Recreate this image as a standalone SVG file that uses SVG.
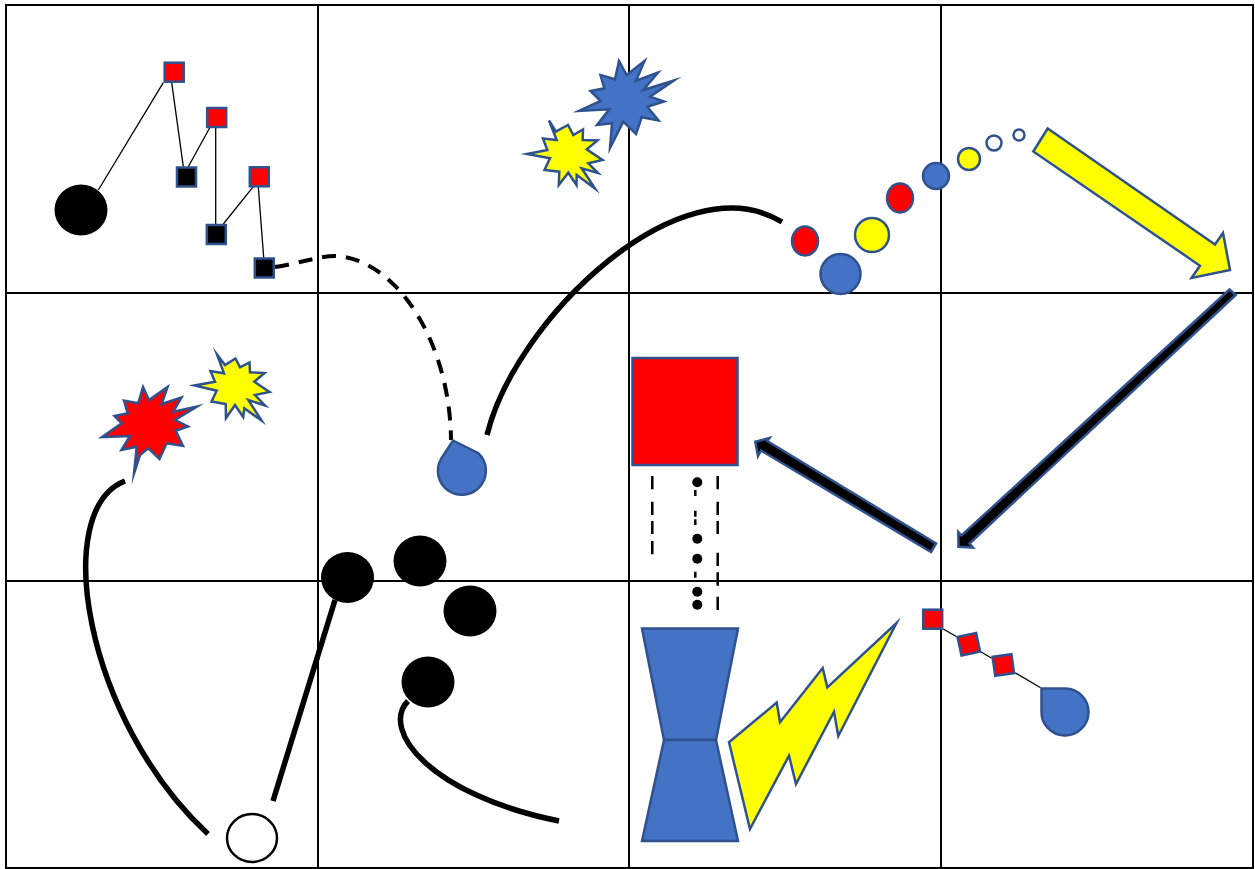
<svg xmlns="http://www.w3.org/2000/svg" width="1255" height="869" viewBox="0 0 1255 869">
<style>
.s{stroke:#2F528F;stroke-width:2.500;stroke-miterlimit:10}
.r{fill:#FF0000}.b{fill:#4472C4}.y{fill:#FFFF00}.k{fill:#000}.w{fill:#fff}
.thin{fill:none;stroke:#000;stroke-width:1.300}
.fat{fill:none;stroke:#000;stroke-width:5.500}
.grid{fill:none;stroke:#000;stroke-width:2}
.dash{fill:none;stroke:#000;stroke-width:2.500}
</style>
<rect width="1255" height="869" fill="#fff"/>
<g id="grid">
<path class="grid" d="M6 5H1253V868H6ZM318 5V868M629 5V868M941 5V868M6 293H1253M6 581H1253"/>
</g>
<g id="connectors">
<path class="thin" d="M98.300 190L163.300 82.700M171.700 82.700L183.300 166.700M188.300 166.700L210 127.300M215.700 127.300V224M223.300 224L253.300 186.700M258.300 186.700L263.700 257.700"/>
<path class="thin" d="M943.300 629L956.700 636.700M980.700 651.700L991.700 658.300M1015 672.700L1040.700 687.700"/>
<path fill="none" stroke="#000" stroke-width="4" stroke-dasharray="14 10" d="M275 267C300 263 320 256 335 256C395 258 450 340 451 440"/>
<path class="fat" d="M487 435C515 320 680 160 782 222"/>
<path class="fat" d="M125 481C50 510 85 720 208 834"/>
<path class="fat" d="M335 600L273 801"/>
<path class="fat" d="M408 701C380 730 430 795 559 821"/>
<path class="dash" d="M652.300 476V489.300M652.300 501.700V515M652.300 521V534M652.300 541V554.300"/>
<path class="dash" d="M717.700 476V489.300M717.700 501.700V515M717.700 521V534M717.700 552.700V566M717.700 572.300V585.700M717.700 596.700V610"/>
<path class="dash" d="M695.300 490V496M695.300 510.700V516.700M695.300 519.300V525M695.300 571.700V577.700"/>
<circle class="k" cx="697.300" cy="482.300" r="5"/>
<circle class="k" cx="697.300" cy="538.700" r="5"/>
<circle class="k" cx="697.300" cy="558.700" r="5"/>
<circle class="k" cx="697.300" cy="591.700" r="5"/>
<circle class="k" cx="697.300" cy="604.700" r="5"/>
</g>
<g id="n-black-oval-1"><ellipse class="k" cx="81" cy="210" rx="26.500" ry="25.500"/></g>
<g id="n-sq-1"><rect class="r s" x="164.700" y="62.700" width="19" height="19"/></g>
<g id="n-sq-2"><rect class="r s" x="207.200" y="108" width="19" height="19"/></g>
<g id="n-sq-3"><rect class="k s" x="177" y="167.500" width="19" height="19"/></g>
<g id="n-sq-4"><rect class="r s" x="249.800" y="167.300" width="19" height="19"/></g>
<g id="n-sq-5"><rect class="k s" x="206.800" y="225" width="19" height="19"/></g>
<g id="n-sq-6"><rect class="k s" x="254.800" y="258.500" width="19" height="19"/></g>
<g id="n-burst-blue"><polygon class="b s" points="619,61 626.700,75 644.500,61 636,80.700 658,72.500 643.300,90 674,80.500 650,96.700 664,101.500 647.300,106.700 658.500,120.500 641.700,117.300 636,134 623.300,121.700 610,148 612,123.300 597,125 609.300,109.300 579,111 600.700,101 590.500,91 604.300,88.300 600.500,75 615,79.300"/></g>
<g id="n-burst-yellow-1"><polygon class="y s" points="549,120.500 556,131.700 568,125 573.300,135 583,129.500 582.700,140 597.500,140.500 586.700,149.300 602.500,160 588.300,163.300 598,173 581.700,168.300 595,188.500 576.700,175 576.500,185 568.300,172.700 558.800,185 559.300,171.700 544.500,170 550,158.300 527,154 547.300,150 543,138.500 556.700,140"/></g>
<g id="n-burst-red"><polygon class="r s" points="143,387 149,400 167.500,387 161.700,404 181.500,397.500 173.300,411.700 197,406.500 175,420 188,426.500 175.700,430.700 183,446 166.700,443.300 159.500,459 148.300,448.300 140,455 134,473.500 136.700,446.700 121.500,450 130,436 102,437 121.700,423.300 114.500,416 127.700,413.300 124,400.500 138.300,403.300"/></g>
<g id="n-burst-yellow-2"><polygon class="y s" points="217,354.500 225,365 235.500,358.500 240,367.300 249.500,362.500 250,372.300 264.500,373 254.300,381.700 269.500,392 255,395 265,405.500 248.300,400 261.500,420.500 244.300,408.300 243.200,417 235,405 226,418 225.700,404 211.500,401.500 216.700,390.700 194.500,385.500 215,381.700 210.500,371 224,373.300"/></g>
<g id="n-oval-red-1"><ellipse class="r s" cx="805" cy="241" rx="13" ry="14.500"/></g>
<g id="n-oval-blue-1"><circle class="b s" cx="840.500" cy="274" r="20"/></g>
<g id="n-oval-yellow-1"><circle class="y s" cx="872" cy="235" r="17"/></g>
<g id="n-oval-red-2"><ellipse class="r s" cx="900" cy="198" rx="13" ry="14.500"/></g>
<g id="n-oval-blue-2"><circle class="b s" cx="936" cy="176" r="13"/></g>
<g id="n-oval-yellow-2"><circle class="y s" cx="969" cy="159" r="11"/></g>
<g id="n-oval-white-1"><circle class="w s" cx="994" cy="143" r="7.500"/></g>
<g id="n-oval-white-2"><circle class="w s" cx="1019" cy="135" r="5.500"/></g>
<g id="n-arrow-yellow"><polygon class="y s" points="1047.700,128.500 1033.300,151.500 1200,265.700 1191.500,278 1230,270 1223,233 1215,244.500"/></g>
<g id="n-arrow-black-1"><polygon class="k s" points="1229.500,289.500 1235.700,295 969.500,543.500 973,547.500 958.500,546.800 958.300,532 961.500,535.500"/></g>
<g id="n-arrow-black-2"><polygon class="k s" points="936,543.500 931,552 761,450.500 758,456 755.300,441.700 769.500,438 767.200,441"/></g>
<g id="n-square-red"><rect class="r s" x="632.500" y="358" width="105" height="107"/></g>
<g id="n-drop-1"><path class="b s" d="M453 440.500L478 453A24 24 0 1 1 441 459Z"/></g>
<g id="n-drop-2"><path class="b s" d="M1041.500 688.500H1065.500A23.500 23.500 0 1 1 1041.500 711Z"/></g>
<g id="n-black-oval-2"><ellipse class="k" cx="347.500" cy="577.500" rx="26.500" ry="25.500"/></g>
<g id="n-black-oval-3"><ellipse class="k" cx="420" cy="561" rx="26.500" ry="25.500"/></g>
<g id="n-black-oval-4"><ellipse class="k" cx="470" cy="611" rx="26.500" ry="25.500"/></g>
<g id="n-black-oval-5"><ellipse class="k" cx="428" cy="682" rx="26.500" ry="25.500"/></g>
<g id="n-white-oval"><ellipse fill="#fff" stroke="#000" stroke-width="2.500" cx="252" cy="838" rx="25" ry="24"/></g>
<g id="n-trap-top"><polygon class="b s" points="642,628.500 738,628.500 716,740 664,740"/></g>
<g id="n-trap-bottom"><polygon class="b s" points="664,740 716,740 738,841 642,841"/></g>
<g id="n-bolt"><polygon class="y s" points="896.500,623 838.300,736 834,711.700 796,784 789,755.700 750,829 729,742.300 776.700,702.500 780,722.300 822.700,668 827.300,687.300"/></g>
<g id="n-sq-7"><rect class="r s" x="923.200" y="609.700" width="19" height="19"/></g>
<g id="n-sq-8"><rect class="r s" x="959.300" y="634.800" width="19" height="19" transform="rotate(-12 968.800 644.300)"/></g>
<g id="n-sq-9"><rect class="r s" x="993.800" y="655.500" width="19" height="19" transform="rotate(-8 1003.300 665)"/></g>
</svg>
